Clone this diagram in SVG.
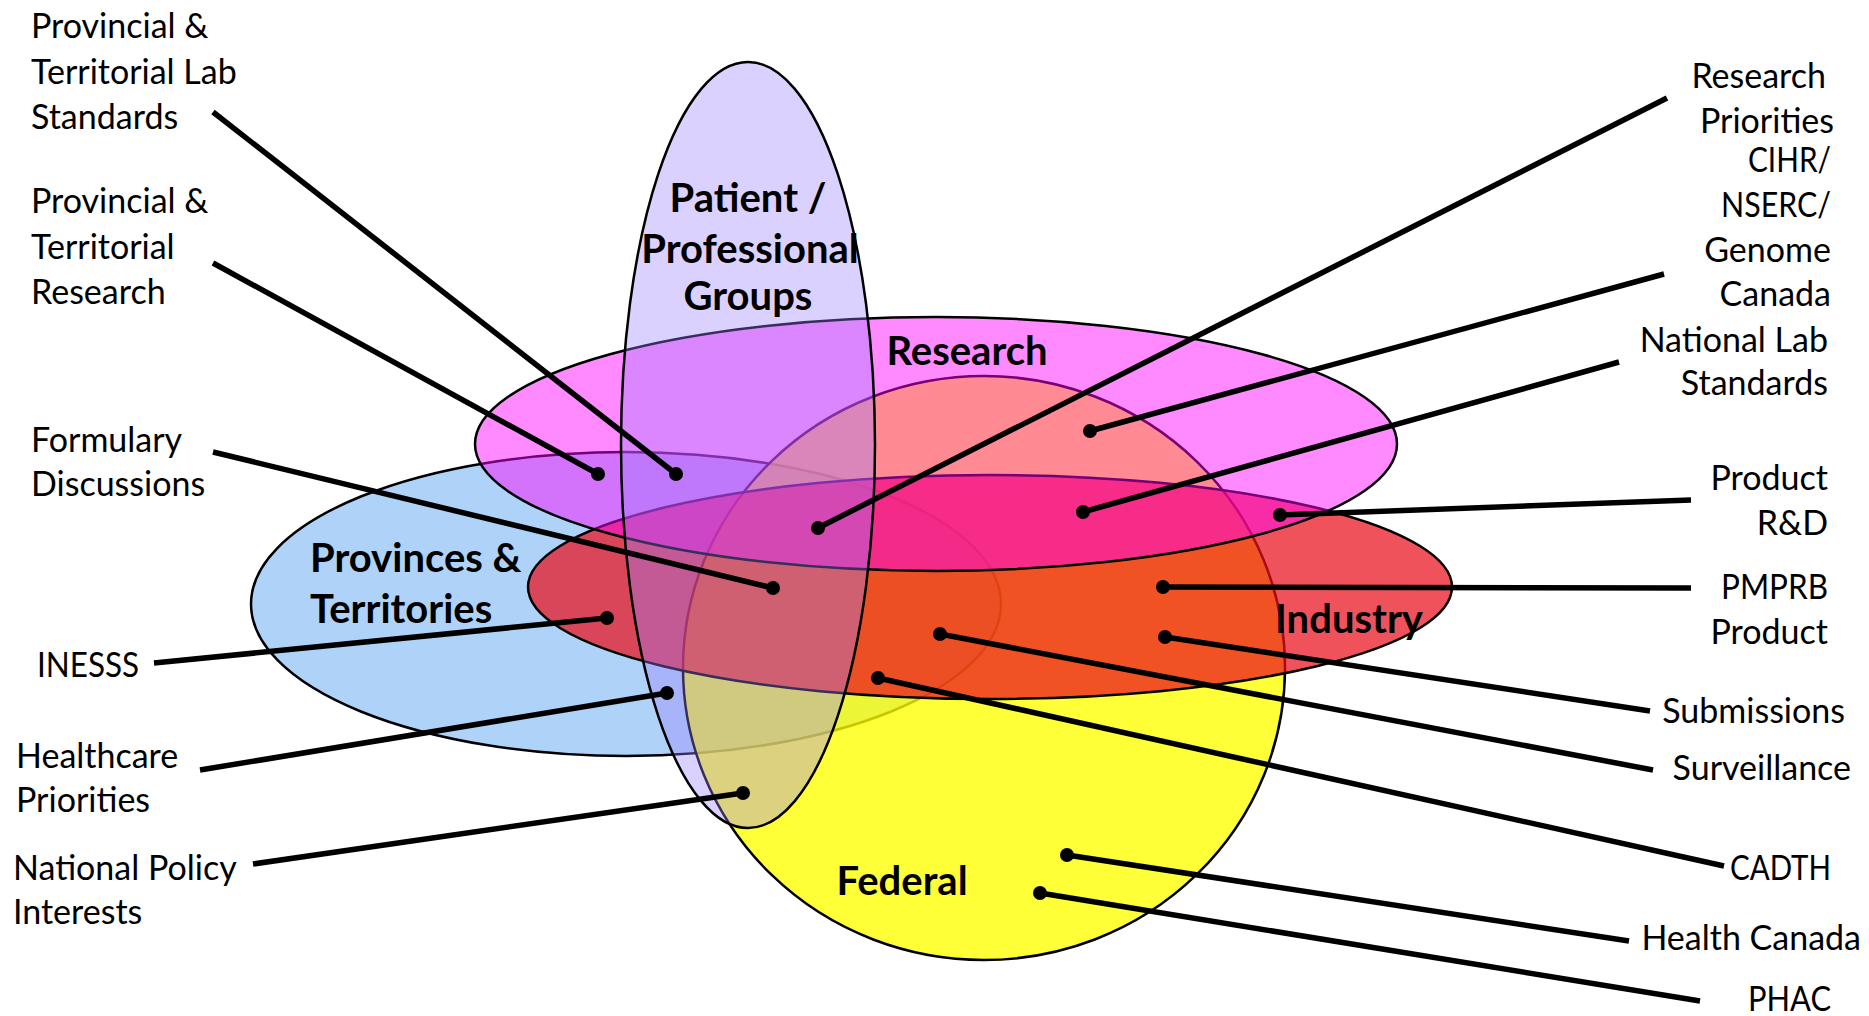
<svg xmlns="http://www.w3.org/2000/svg" width="1869" height="1016" viewBox="0 0 1869 1016">
  <style>
    .set { stroke: #000; stroke-width: 2.5; }
    .lbl { font-family: Lato, "Liberation Sans", sans-serif; font-size: 34px; fill: #000; }
    .end { text-anchor: end; }
    .title { font-family: Lato, "Liberation Sans", sans-serif; font-size: 40px; font-weight: bold; fill: #000; }
    .mid { text-anchor: middle; }
    .lead { stroke: #000; stroke-width: 5.5; fill: none; }
    .dot { fill: #000; }
  </style>
  <rect width="1869" height="1016" fill="#fff"/>

  <!-- overlapping stakeholder sets, bottom to top -->
  <g id="provinces">
    <ellipse class="set" cx="626" cy="604" rx="375" ry="152" fill="#aed2f8"/>
  </g>
  <g id="federal">
    <ellipse class="set" cx="984" cy="668" rx="301" ry="292" fill="#ffff00" fill-opacity="0.78"/>
  </g>
  <g id="industry">
    <ellipse class="set" cx="990" cy="587" rx="462" ry="112" fill="#ea0f1c" fill-opacity="0.72"/>
  </g>
  <g id="research">
    <ellipse class="set" cx="936" cy="444" rx="461" ry="127" fill="#ff00ff" fill-opacity="0.46"/>
  </g>
  <g id="patient">
    <ellipse class="set" cx="748" cy="445" rx="127" ry="383" fill="#9a80ff" fill-opacity="0.36"/>
  </g>

  <!-- set titles -->
  <g id="set-titles">
    <text class="title mid" x="748" y="212">Patient /</text>
    <text class="title mid" x="750" y="263">Professional</text>
    <text class="title mid" x="748" y="310">Groups</text>
    <text class="title mid" x="967" y="365">Research</text>
    <text class="title" x="310" y="572">Provinces &amp;</text>
    <text class="title" x="310" y="623">Territories</text>
    <text class="title mid" x="1349" y="633">Industry</text>
    <text class="title mid" x="902" y="895">Federal</text>
  </g>

  <!-- leader lines from each label to its point -->
  <g id="connectors">
    <line class="lead" x1="213" y1="112" x2="676" y2="474"/>
    <line class="lead" x1="213" y1="263" x2="598" y2="474"/>
    <line class="lead" x1="213" y1="452" x2="773" y2="588"/>
    <line class="lead" x1="154" y1="663" x2="607" y2="618"/>
    <line class="lead" x1="200" y1="770" x2="667" y2="693"/>
    <line class="lead" x1="253" y1="864" x2="743" y2="793"/>
    <line class="lead" x1="1667" y1="98" x2="818" y2="528"/>
    <line class="lead" x1="1664" y1="274" x2="1090" y2="431"/>
    <line class="lead" x1="1619" y1="362" x2="1083" y2="512"/>
    <line class="lead" x1="1691" y1="500" x2="1280" y2="515"/>
    <line class="lead" x1="1691" y1="588" x2="1163" y2="587"/>
    <line class="lead" x1="1650" y1="711" x2="1165" y2="637"/>
    <line class="lead" x1="1653" y1="770" x2="940" y2="634"/>
    <line class="lead" x1="1724" y1="866" x2="878" y2="678"/>
    <line class="lead" x1="1629" y1="941" x2="1067" y2="855"/>
    <line class="lead" x1="1700" y1="1001" x2="1040" y2="893"/>
    <g class="dot">
      <circle cx="676" cy="474" r="7"/>
      <circle cx="598" cy="474" r="7"/>
      <circle cx="773" cy="588" r="7"/>
      <circle cx="607" cy="618" r="7"/>
      <circle cx="667" cy="693" r="7"/>
      <circle cx="743" cy="793" r="7"/>
      <circle cx="818" cy="528" r="7"/>
      <circle cx="1090" cy="431" r="7"/>
      <circle cx="1083" cy="512" r="7"/>
      <circle cx="1280" cy="515" r="7"/>
      <circle cx="1163" cy="587" r="7"/>
      <circle cx="1165" cy="637" r="7"/>
      <circle cx="940" cy="634" r="7"/>
      <circle cx="878" cy="678" r="7"/>
      <circle cx="1067" cy="855" r="7"/>
      <circle cx="1040" cy="893" r="7"/>
    </g>
  </g>

  <!-- labels, left column -->
  <g id="labels-left">
    <text class="lbl" x="31" y="38">Provincial &amp;</text>
    <text class="lbl" x="31" y="84">Territorial Lab</text>
    <text class="lbl" x="31" y="129">Standards</text>
    <text class="lbl" x="31" y="213">Provincial &amp;</text>
    <text class="lbl" x="31" y="259">Territorial</text>
    <text class="lbl" x="31" y="304">Research</text>
    <text class="lbl" x="31" y="452">Formulary</text>
    <text class="lbl" x="31" y="496">Discussions</text>
    <text class="lbl" x="37" y="677" textLength="102" lengthAdjust="spacingAndGlyphs">INESSS</text>
    <text class="lbl" x="16" y="768">Healthcare</text>
    <text class="lbl" x="16" y="812">Priorities</text>
    <text class="lbl" x="13" y="880">National Policy</text>
    <text class="lbl" x="13" y="924">Interests</text>
  </g>

  <!-- labels, right column -->
  <g id="labels-right">
    <text class="lbl end" x="1826" y="88">Research</text>
    <text class="lbl end" x="1834" y="133">Priorities</text>
    <text class="lbl" x="1748" y="172" textLength="83" lengthAdjust="spacingAndGlyphs">CIHR/</text>
    <text class="lbl" x="1721" y="217" textLength="110" lengthAdjust="spacingAndGlyphs">NSERC/</text>
    <text class="lbl end" x="1831" y="262">Genome</text>
    <text class="lbl end" x="1831" y="306">Canada</text>
    <text class="lbl end" x="1828" y="352">National Lab</text>
    <text class="lbl end" x="1828" y="395">Standards</text>
    <text class="lbl end" x="1828" y="490">Product</text>
    <text class="lbl end" x="1828" y="535">R&amp;D</text>
    <text class="lbl" x="1721" y="599" textLength="107" lengthAdjust="spacingAndGlyphs">PMPRB</text>
    <text class="lbl end" x="1828" y="644">Product</text>
    <text class="lbl end" x="1845" y="723">Submissions</text>
    <text class="lbl end" x="1851" y="780">Surveillance</text>
    <text class="lbl" x="1730" y="880" textLength="101" lengthAdjust="spacingAndGlyphs">CADTH</text>
    <text class="lbl end" x="1861" y="950">Health Canada</text>
    <text class="lbl" x="1748" y="1011" textLength="83" lengthAdjust="spacingAndGlyphs">PHAC</text>
  </g>
</svg>
